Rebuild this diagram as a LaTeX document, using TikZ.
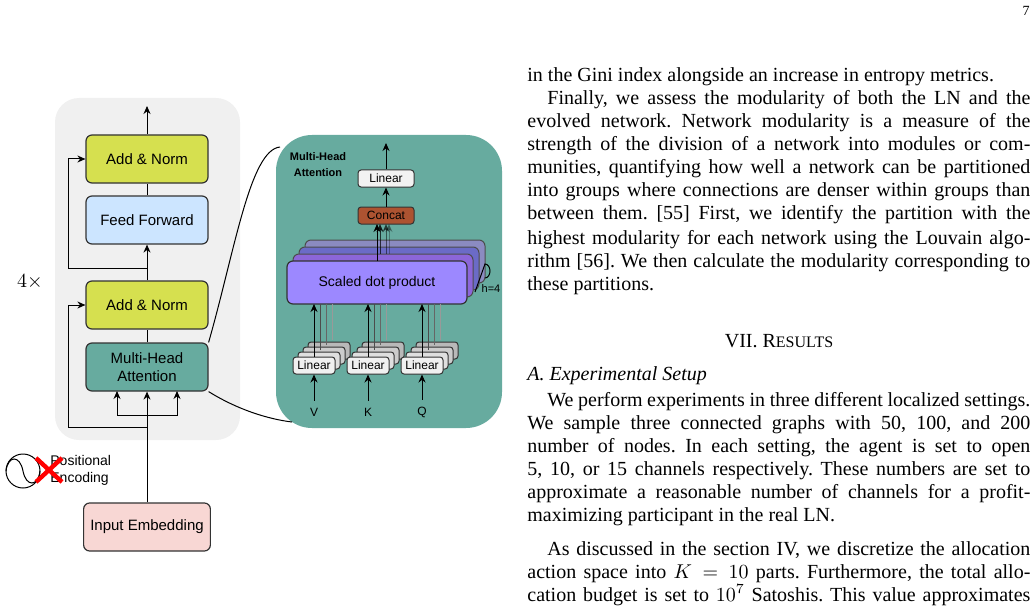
\documentclass[tikz,border=0pt]{standalone}
\usepackage{fontspec}
\setmainfont{Liberation Serif}
\newfontfamily\dsans{Liberation Sans}
\usetikzlibrary{arrows.meta}
\frenchspacing
\definecolor{bgg}{HTML}{F0F0F0}
\definecolor{an}{HTML}{D6E04F}
\definecolor{ff}{HTML}{CCE5FF}
\definecolor{mha}{HTML}{67AB9F}
\definecolor{inp}{HTML}{F8D7D4}
\definecolor{cc}{HTML}{AD5331}
\definecolor{sdp}{HTML}{9C88FF}
\begin{document}
\begin{tikzpicture}[x=0.5pt,y=-0.5pt,
 blk/.style={draw=black!80,rounded corners=3pt,minimum width=61pt,minimum height=24pt,font=\dsans\fontsize{7.5}{9}\selectfont,align=center,line width=0.6pt},
 sl/.style={draw=black!80,rounded corners=1.5pt,fill=gray!12,minimum width=21pt,minimum height=8.5pt,inner sep=0pt,font=\dsans\fontsize{6}{7}\selectfont,line width=0.5pt},
 ar/.style={-{Stealth[length=4pt,width=3.5pt]},line width=0.5pt},
 ln/.style={line width=0.5pt},
 bl/.style={anchor=base west,inner sep=0pt,font=\fontsize{10}{11}\selectfont},
 jl/.style={bl,text width=251.5pt}]
\useasboundingbox (0,0) rectangle (1036,609);
% page number
\node[anchor=base east,inner sep=0pt,font=\fontsize{7}{8}\selectfont] at (1030,16) {7};
% left encoder
\fill[bgg,rounded corners=12pt] (55,98) rectangle (240,440);
\node[blk,fill=an] (an1) at (147,159) {Add \& Norm};
\node[blk,fill=ff] (ff) at (147,220) {Feed Forward};
\node[blk,fill=an] (an2) at (147,305) {Add \& Norm};
\node[blk,fill=mha] (mh) at (147,367) {Multi-Head\\Attention};
\node[blk,fill=inp] (ie) at (147,527) {Input Embedding};
\coordinate (out) at (147,106);
\draw[ar] (an1.north) -- (out);
\draw[ln] (ff.north) -- (an1.south);
\draw[ar] (an2.north) -- (ff.south);
\draw[ln] (mh.north) -- (an2.south);
\coordinate (r1) at (147,268);
\coordinate (r2) at (147,427);
\coordinate (b1) at (147,415);
\draw[ar] (r1) -| (68,159) -- (an1.west);
\draw[ar] (r2) -| (68,305) -- (an2.west);
\draw[ar] (ie.north) -- (mh.south);
\draw[ar] (b1) -| (117,391);
\draw[ar] (b1) -| (177,391);
\node[font=\fontsize{10}{11}\selectfont] (four) at (30,282) {$4\times$};
% positional encoding
\draw[line width=0.5pt] (23,471) circle (17);
\draw[line width=0.5pt] (6,471) .. controls (8,455) and (20,455) .. (23,471) .. controls (26,487) and (38,487) .. (40,471);
\node[anchor=west,font=\dsans\fontsize{7}{8.5}\selectfont,align=left,inner sep=0pt] (pe) at (50,470) {Positional\\Encoding};
\draw[red,line width=2.2pt] (36,458) -- (62,482);
\draw[red,line width=2.2pt] (62,458) -- (36,482);
% panel
\fill[mha,rounded corners=18pt] (276,135) rectangle (502,428);
\draw[line width=0.5pt] (mh.north east) .. controls (235,250) and (250,150) .. (280,147);
\draw[line width=0.5pt] (mh.south east) .. controls (230,405) and (260,418) .. (292,422);
\node[font=\dsans\bfseries\fontsize{5.5}{8}\selectfont,align=center] (tt) at (318,165) {Multi-Head\\Attention};
% sdp stack
\foreach \i/\c in {3/blue!30!gray!70,2/blue!45!gray!80,1/blue!50!violet!60} {
 \draw[black!70,fill=\c,rounded corners=3pt,line width=0.5pt] (287+6*\i,261-7*\i) rectangle (467+6*\i,304-7*\i);}
\draw[line width=0.5pt] (485,278) arc (90:-90:5 and 7) -- (475,292);
\node[draw=black!80,fill=sdp,rounded corners=3pt,line width=0.6pt,minimum width=90pt,minimum height=21.5pt,font=\dsans\fontsize{7}{8}\selectfont] (sd) at (377,282.5) {Scaled dot product};
\node[font=\dsans\fontsize{5.5}{6}\selectfont] (h4) at (491,289) {h=4};
\node[sl,minimum width=28pt,fill=gray!10] (lt) at (386,178.5) {Linear};
\node[sl,minimum width=28pt,fill=cc] (cn) at (386,215.5) {Concat};
\coordinate (o2) at (386,143);
\draw[ar] (lt.north) -- (o2);
\draw[ar] (cn.north) -- (lt.south);
\foreach \dx/\op in {3/0.3,0/0.5,-6/0.7} \draw[ar,opacity=\op] (386+\dx,254) -- (386+\dx,224);
\draw[ar] (377,261) -- (377,224);
% linear stacks
\foreach \n/\xx in {v/314,k/368,q/422} {
 \foreach \i/\g in {3/55,2/40,1/25} \draw[black!80,fill=gray!\g,rounded corners=1.5pt,line width=0.5pt] (\xx-21+5*\i,357-5*\i) rectangle (\xx+21+5*\i,374-5*\i);
 \node[sl] (l\n) at (\xx,365.5) {Linear};
 \draw[ln,black!70] (\xx+6,350) -- (\xx+6,304);
 \draw[ln,black!60] (\xx+12,345) -- (\xx+12,304);
 \draw[ln,black!40] (\xx+18,340) -- (\xx+18,304);
 \draw[ar] (l\n.north) -- (\xx,304);
}
\node[font=\dsans\fontsize{6}{7}\selectfont] (V) at (314,412) {V};
\node[font=\dsans\fontsize{6}{7}\selectfont] (K) at (368,412) {K};
\node[font=\dsans\fontsize{6}{7}\selectfont] (Q) at (422,412) {Q};
\draw[ar] (V.north) -- (lv.south);
\draw[ar] (K.north) -- (lk.south);
\draw[ar] (Q.north) -- (lq.south);
% text column
\newcommand{\jline}[2]{\node[bl] at (527,#1) {\makebox[251.5pt][s]{#2}};}
\node[bl] at (527,82) {in the Gini index alongside an increase in entropy metrics.};
\jline{105}{\hspace*{10pt}Finally, we assess the modularity of both the LN and the}
\jline{128}{evolved network. Network modularity is a measure of the}
\jline{151}{strength of the division of a network into modules or com-}
\jline{174}{munities, quantifying how well a network can be partitioned}
\jline{197}{into groups where connections are denser within groups than}
\jline{220}{between them. [55] First, we identify the partition with the}
\jline{244}{highest modularity for each network using the Louvain algo-}
\jline{267}{rithm [56]. We then calculate the modularity corresponding to}
\node[bl] at (527,290) {these partitions.};
\node[anchor=base,inner sep=0pt,font=\fontsize{10}{11}\selectfont] at (779,347) {VII. R{\fontsize{8}{9}\selectfont ESULTS}};
\node[bl] at (527,380) {\textit{A. Experimental Setup}};
\jline{406}{\hspace*{10pt}We perform experiments in three different localized settings.}
\jline{429}{We sample three connected graphs with 50, 100, and 200}
\jline{452}{number of nodes. In each setting, the agent is set to open}
\jline{475}{5, 10, or 15 channels respectively. These numbers are set to}
\jline{498}{approximate a reasonable number of channels for a profit-}
\node[bl] at (527,521) {maximizing participant in the real LN.};
\jline{555}{\hspace*{10pt}As discussed in the section IV, we discretize the allocation}
\jline{578}{action space into $K=10$ parts. Furthermore, the total allo-}
\jline{601}{cation budget is set to $10^7$ Satoshis. This value approximates}
\end{tikzpicture}
\end{document}
